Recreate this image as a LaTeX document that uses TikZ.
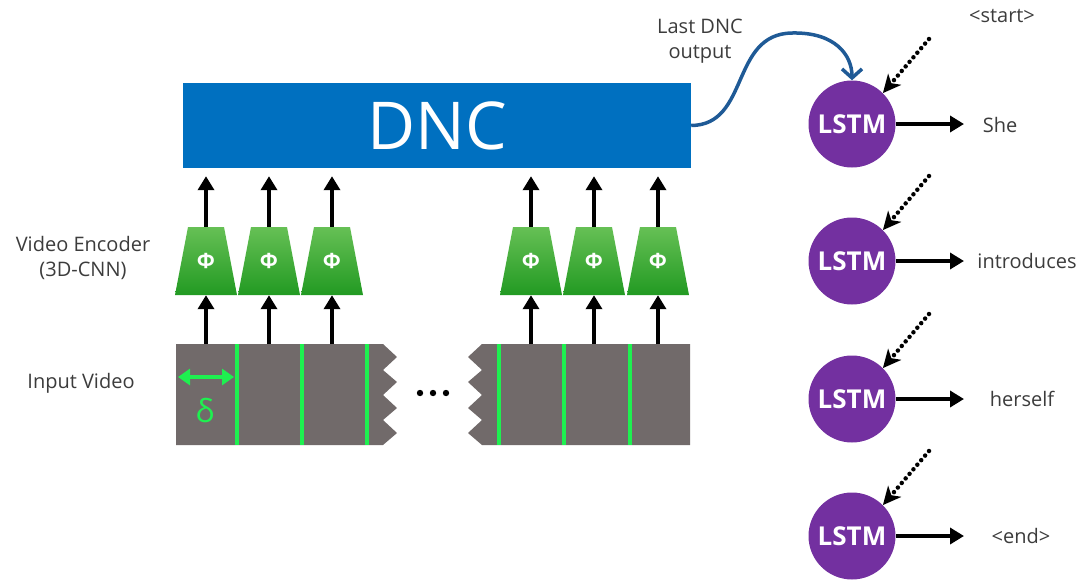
\documentclass[tikz,border=0pt]{standalone}
\usepackage{fontspec}
\setmainfont{Open Sans}
\usetikzlibrary{arrows.meta,calc}
\definecolor{dncblue}{HTML}{0070C0}
\definecolor{curveblue}{HTML}{1F5A96}
\definecolor{enctop}{HTML}{66C055}
\definecolor{encbot}{HTML}{229A22}
\definecolor{stripgray}{HTML}{716A6A}
\definecolor{vgreen}{HTML}{1EF050}
\definecolor{lstmpurple}{HTML}{7330A0}
\definecolor{txtgray}{HTML}{3C3C3C}
\tikzset{
  blk/.style={line width=4pt, draw=black, -{Triangle[length=14pt,width=16pt]}},
  dotarrow/.style={line width=4.5pt, draw=black, line cap=round, dash pattern=on 0pt off 6pt, -{Stealth[length=18pt,width=17pt,inset=5pt]}},
  curvearrow/.style={line width=3.5pt, draw=curveblue, -{Straight Barb[length=9pt,width=20pt,line width=3.5pt]}},
  encshade/.style={top color=enctop, bottom color=encbot},
  enctext/.style={inner sep=0, minimum width=62pt, minimum height=68pt, text=white, font=\fontsize{21}{21}\selectfont\bfseries},
  lstm/.style={circle, fill=lstmpurple, minimum size=87pt, inner sep=0, text=white, font=\fontsize{26}{26}\selectfont\bfseries},
  lbl/.style={text=txtgray, font=\fontsize{20}{25}\selectfont, inner sep=0},
  strip/.style={fill=stripgray},
  gline/.style={draw=vgreen, line width=3.5pt},
}
\begin{document}
\begin{tikzpicture}[x=1pt,y=1pt]
\useasboundingbox (0,0) rectangle (1082,-582);

% DNC
\node[fill=dncblue, minimum width=508pt, minimum height=85pt, inner sep=0, text=white,
      font=\fontsize{66}{66}\selectfont] (dnc) at (437,-125.5) {DNC};

% Labels on the left
\node[lbl, align=center] (venc) at (83,-258) {Video Encoder\\(3D-CNN)};
\node[lbl] (invid) at (81,-383) {Input Video};

% video strips
\fill[strip] (176,-344) -- (383,-344) -- (397,-357) -- (383,-370) -- (397,-382) -- (383,-395)
  -- (397,-408) -- (383,-420) -- (397,-433) -- (383,-445) -- (176,-445) -- cycle;
\fill[strip] (690,-344) -- (482,-344) -- (468,-357) -- (482,-370) -- (468,-382) -- (482,-395)
  -- (468,-408) -- (482,-420) -- (468,-433) -- (482,-445) -- (690,-445) -- cycle;
\foreach \gx in {237,302,367,499,564,630}
  \draw[gline] (\gx,-344) -- (\gx,-445);

% delta
\draw[draw=vgreen, line width=4pt, {Triangle[length=12pt,width=16pt]}-{Triangle[length=12pt,width=16pt]}] (178,-377) -- (234,-377);
\node[text=vgreen, inner sep=0, font=\fontsize{32}{32}\selectfont] (delta) at (205,-411) {δ};

% dots
\foreach \dx in {420,433,446}
  \fill[black] (\dx,-393) circle (3.2pt);

% encoders
\foreach \n/\ex in {p1/206,p2/269,p3/332,p4/531,p5/594,p6/658}{
  \shade[encshade] (\ex-31,-295) -- (\ex+31,-295) -- (\ex+18,-227) -- (\ex-18,-227) -- cycle;
  \node[enctext] (\n) at (\ex,-261) {\raisebox{-5pt}{Φ}};
  \coordinate (v\n) at (\ex,-344);
  \draw[blk] (v\n) -- (\n.south);
  \draw[blk, shorten >=8pt] (\n.north) -- (\n.north |- dnc.south);
}

% LSTMs
\node[lstm] (l1) at (852,-124) {LSTM};
\node[lstm] (l2) at (852,-261) {LSTM};
\node[lstm] (l3) at (852,-399) {LSTM};
\node[lstm] (l4) at (852,-536) {LSTM};

\node[lbl] (w1) at (1000,-125) {She};
\node[lbl] (w2) at (1027,-261) {introduces};
\node[lbl] (w3) at (1022,-399) {herself};
\node[lbl] (w4) at (1021,-536) {<end>};
\node[lbl] (st) at (1002,-16) {<start>};

\foreach \i in {1,2,3,4}{
  \coordinate (t\i) at ($(l\i)+(112,0)$);
  \coordinate (s\i) at ($(l\i)+(77,85)$);
  \draw[blk] (l\i.east) -- (t\i);
  \draw[dotarrow] (s\i) -- (l\i.45);
}

% Last DNC output
\node[lbl, align=center] (ldo) at (700,-41) {Last DNC\\output};
\draw[curvearrow] (dnc.east) .. controls (750,-125) and (730,-34) .. (792,-33)
  .. controls (835,-32) and (852,-55) .. (l1.north);
\end{tikzpicture}
\end{document}
